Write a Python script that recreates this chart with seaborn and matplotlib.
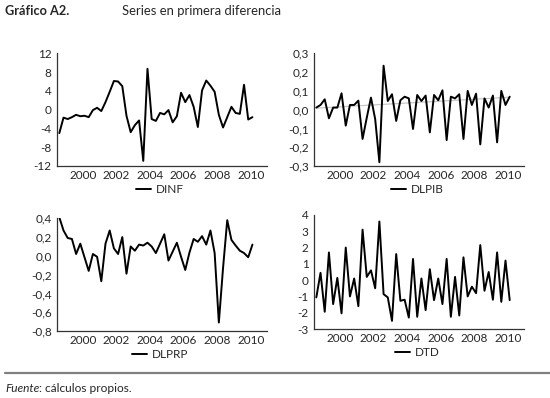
import numpy as np
import pandas as pd
import matplotlib
matplotlib.use("Agg")
import matplotlib.pyplot as plt
from matplotlib.ticker import FuncFormatter, FixedLocator
import seaborn as sns

# quarterly observations, 1999Q2 - 2010Q4
periods = pd.period_range("1999Q2", "2010Q4", freq="Q")

dinf = [-5.0, -1.7, -2.0, -1.6, -1.1, -1.4, -1.3, -1.6, -0.1, 0.4,
        -0.3, 1.6, 3.8, 6.1, 6.0, 5.0, -1.3, -4.8, -3.3, -2.3,
        -10.9, 8.7, -2.0, -2.4, -0.7, -1.0, -0.1, -2.7, -1.4, 3.6,
        1.6, 3.1, 0.6, -3.7, 4.1, 6.2, 5.1, 3.8, -1.1, -3.8,
        -1.6, 0.6, -0.7, -0.9, 5.3, -2.1, -1.6]

dlpib = [0.011, 0.025, 0.055, -0.046, 0.011, 0.011, 0.087, -0.085, 0.025, 0.025,
         0.048, -0.156, -0.043, 0.064, -0.05, -0.28, 0.234, 0.046, 0.082, -0.06,
         0.05, 0.069, 0.06, -0.103, 0.078, 0.046, 0.075, -0.121, 0.078, 0.05,
         0.103, -0.162, 0.069, 0.06, 0.082, -0.156, 0.1, 0.025, 0.085, -0.185,
         0.06, 0.011, 0.075, -0.174, 0.1, 0.025, 0.069]
dlpib_trend = [0.008, 0.066]

dlprp = [0.41, 0.27, 0.19, 0.18, 0.02, 0.13, -0.015, -0.16, 0.02, -0.01,
         -0.27, 0.13, 0.27, 0.08, 0.02, 0.2, -0.19, 0.1, 0.055, 0.12,
         0.11, 0.14, 0.1, 0.03, 0.13, 0.23, -0.05, 0.045, 0.14, -0.01,
         -0.15, 0.035, 0.18, 0.15, 0.21, 0.12, 0.27, 0.03, -0.71, -0.13,
         0.38, 0.17, 0.11, 0.055, 0.03, -0.015, 0.12]

dtd = [-1.06, 0.45, -1.94, 1.7, -1.47, 0.14, -2.04, 2.0, -1.0, 0.1,
       -1.6, 3.1, 0.2, 0.6, -0.5, 3.6, -0.86, -1.06, -2.5, 1.6,
       -1.27, -1.2, -2.3, 1.3, -2.25, 0.1, -1.84, 0.67, -1.23, 0.1,
       -1.47, 1.3, -2.25, 0.2, -2.17, 1.4, -1.0, -0.4, -0.8, 2.15,
       -0.65, 0.5, -1.2, 1.7, -1.33, 1.2, -1.23]

year_labels = [2000, 2002, 2004, 2006, 2008, 2010]

t = np.array([p.year + (p.quarter - 1) / 4 for p in periods])
df = pd.DataFrame({"t": t, "DINF": dinf, "DLPIB": dlpib, "DLPRP": dlprp, "DTD": dtd})

sns.set_style("white")
plt.rcParams["font.family"] = ["Lato", "DejaVu Sans"]
plt.rcParams["axes.unicode_minus"] = False

fig = plt.figure(figsize=(5.5, 3.98), dpi=100)

W, H = 550, 398
def add_ax(x0, x1, ytop, ybot):
    return fig.add_axes([x0 / W, 1 - ybot / H, (x1 - x0) / W, (ybot - ytop) / H])

panels = [
    ("DINF", add_ax(57.3, 266.7, 53.3, 166), (-12, 12), np.arange(-12, 13, 4), "{:.0f}"),
    ("DLPIB", add_ax(314.3, 524, 53.3, 166), (-0.3, 0.3), np.arange(-0.3, 0.31, 0.1), "{:.1f}"),
    ("DLPRP", add_ax(57.3, 266.7, 218.3, 331), (-0.8, 0.4), np.arange(-0.8, 0.41, 0.2), "{:.1f}"),
    ("DTD", add_ax(314.3, 524, 215, 329), (-3, 4), np.arange(-3, 5, 1), "{:.0f}"),
]

xmin, xmax = 1999.13, 2011.6
for name, ax, ylim, yticks, fmt in panels:
    if name == "DLPIB":
        sns.lineplot(x=[t[0], t[-1]], y=dlpib_trend, ax=ax, color="#c8c8c8", lw=0.9)
    sns.lineplot(data=df, x="t", y=name, ax=ax, color="black", lw=1.4, label=name)
    ax.set_xlim(xmin, xmax)
    ax.set_ylim(*ylim)
    ax.set_yticks(yticks)
    ax.yaxis.set_major_formatter(FuncFormatter(
        lambda v, p, f=fmt: f.format(0 if abs(v) < 1e-9 else v).replace(".", ",")))
    # tick marks at year starts, labels sit just after them
    ax.xaxis.set_major_locator(FixedLocator([float(y) for y in year_labels] + [xmax]))
    ax.xaxis.set_minor_locator(FixedLocator([y + 0.65 for y in year_labels]))
    ax.xaxis.set_major_formatter(FuncFormatter(lambda v, p: ""))
    ax.xaxis.set_minor_formatter(FuncFormatter(lambda v, p: f"{v - 0.65:.0f}"))
    ax.tick_params(axis="x", which="major", direction="in", length=3, width=0.8, color="#333333")
    ax.tick_params(axis="x", which="minor", length=0, pad=3, labelsize=8.5)
    ax.tick_params(axis="y", direction="in", length=3, width=0.8, pad=4, labelsize=8.5, color="#333333")
    ax.set_xlabel("")
    ax.set_ylabel("")
    for s in ("top", "right"):
        ax.spines[s].set_visible(False)
    for s in ("left", "bottom"):
        ax.spines[s].set_color("#333333")
        ax.spines[s].set_linewidth(0.9)
    ax.legend(loc="upper center", bbox_to_anchor=(0.49, -0.11), frameon=False,
              handlelength=1.3, handletextpad=0.4, fontsize=8.5, borderpad=0)

fig.text(5 / W, 1 - 11 / H, "Gráfico A2.", fontsize=9.2, fontweight="bold", va="center")
fig.text(122 / W, 1 - 11 / H, "Series en primera diferencia", fontsize=9.4, va="center")
fig.add_artist(plt.Line2D([5 / W, 1], [1 - 373 / H, 1 - 373 / H], color="#808080", lw=1.6))

r = fig.canvas.get_renderer()
src = fig.text(5 / W, 1 - 388 / H, "Fuente", fontsize=8.6, style="italic", va="center")
x_end = src.get_window_extent(r).x1 / fig.bbox.width
fig.text(x_end, 1 - 388 / H, ": cálculos propios.", fontsize=8.6, va="center")

fig.savefig("out.png", dpi=100)
